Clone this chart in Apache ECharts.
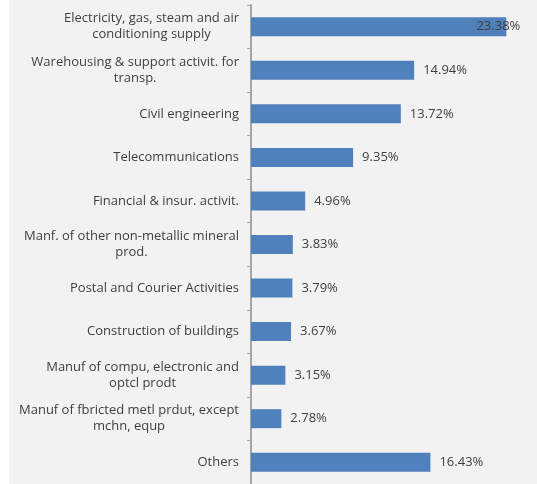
<!DOCTYPE html>
<html>
<head>
<meta charset="utf-8">
<script src="https://cdn.jsdelivr.net/npm/echarts@6/dist/echarts.min.js"></script>
<style>
  html, body { margin: 0; padding: 0; background: #ffffff; }
  #chart { width: 537px; height: 484px; }
</style>
</head>
<body>
<div id="chart"></div>
<script>
// Sectors, top to bottom
const categories = [
  'Electricity, gas, steam and air\nconditioning supply',
  'Warehousing & support activit. for\ntransp.',
  'Civil engineering',
  'Telecommunications',
  'Financial & insur. activit.',
  'Manf. of other non-metallic mineral\nprod.',
  'Postal and Courier Activities',
  'Construction of buildings',
  'Manuf of compu, electronic and\noptcl prodt',
  'Manuf of fbricted metl prdut, except\nmchn, equp',
  'Others'
];
// Share of total, percent
const shares = [23.38, 14.94, 13.72, 9.35, 4.96, 3.83, 3.79, 3.67, 3.15, 2.78, 16.43];
// Value axis range
const axisMin = 0;
const axisMax = 25;

const FONT = 'Open Sans';
const TEXT = '#3f3f3f';

const chart = echarts.init(document.getElementById('chart'), null, { renderer: 'canvas' });

const barData = shares.map((v, i) => {
  const item = { value: v };
  // the longest bar keeps its label inside the plot area
  if (i === 0) {
    item.label = { position: 'insideRight', distance: 0, offset: [14, 0] };
  }
  return item;
});

chart.setOption({
  backgroundColor: '#ffffff',
  animation: false,
  graphic: [{
    type: 'rect',
    left: 9, top: 0,
    shape: { width: 528, height: 484 },
    style: { fill: '#f2f2f2' },
    z: -10
  }],
  grid: { left: 251, right: 13, top: 5, bottom: -3, containLabel: false },
  xAxis: {
    type: 'value',
    min: axisMin,
    max: axisMax,
    show: false
  },
  yAxis: {
    type: 'category',
    inverse: true,
    data: categories,
    axisLine: { show: true, lineStyle: { color: '#a6a6a6', width: 2 } },
    axisTick: { show: true, length: 4, lineStyle: { color: '#a6a6a6', width: 1 } },
    axisLabel: {
      margin: 12,
      align: 'right',
      // wrapped lines are centred on each other, block right-aligned to the axis
      formatter: v => v.split('\n').map(s => '{c|' + s + '}').join('\n'),
      rich: {
        c: {
          align: 'center',
          color: TEXT,
          fontFamily: FONT,
          fontSize: 13,
          lineHeight: 16
        }
      }
    },
    splitLine: { show: false }
  },
  series: [{
    type: 'bar',
    data: barData,
    barWidth: 19,
    itemStyle: { color: '#4f81bd' },
    label: {
      show: true,
      position: 'right',
      distance: 9,
      color: TEXT,
      fontFamily: FONT,
      fontSize: 13,
      formatter: p => p.value.toFixed(2) + '%'
    }
  }]
});
</script>
</body>
</html>
